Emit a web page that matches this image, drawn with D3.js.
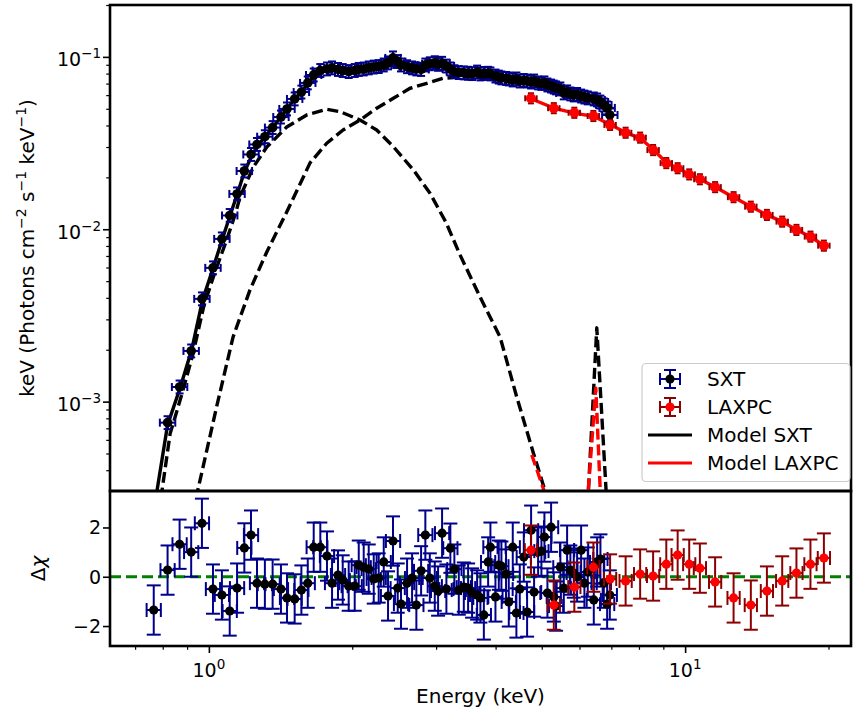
<!DOCTYPE html>
<html>
<head>
<meta charset="utf-8">
<script src="https://cdn.jsdelivr.net/npm/d3@7"></script>
<style>
  body { margin: 0; background: #fff; }
  text { font-family: "DejaVu Sans", sans-serif; fill: #000; }
</style>
</head>
<body>
<div id="chart"></div>
<script>
// ---- data ----
const sxtEnergy = [0.766, 0.819, 0.868, 0.918, 0.967, 1.020, 1.065, 1.106, 1.146, 1.187,
  1.226, 1.262, 1.311, 1.361, 1.417, 1.459, 1.514, 1.564, 1.613, 1.660,
  1.714, 1.770, 1.814, 1.867, 1.910, 1.966, 2.024, 2.064, 2.114, 2.166,
  2.219, 2.273, 2.329, 2.378, 2.436, 2.492, 2.532, 2.607, 2.671, 2.727,
  2.790, 2.848, 2.910, 2.981, 3.029, 3.088, 3.153, 3.214, 3.277, 3.348,
  3.430, 3.502, 3.570, 3.658, 3.717, 3.779, 3.858, 3.901, 3.997, 4.062,
  4.114, 4.207, 4.263, 4.346, 4.423, 4.496, 4.584, 4.658, 4.749, 4.818,
  4.913, 4.992, 5.065, 5.139, 5.231, 5.300, 5.358, 5.471, 5.562, 5.652,
  5.742, 5.837, 5.932, 6.048, 6.145, 6.246, 6.430, 6.535, 6.640, 6.750,
  6.859, 6.948];
const sxtFlux = [2.29e-4, 7.55e-4, 1.216e-3, 1.968e-3, 3.945e-3, 5.97e-3, 8.79e-3, 0.01202, 0.01603, 0.02178,
  0.02716, 0.03105, 0.03443, 0.03890, 0.04477, 0.04989, 0.05702, 0.06252, 0.07063, 0.07852,
  0.08337, 0.08511, 0.08630, 0.08453, 0.08337, 0.08222, 0.08337, 0.08453, 0.08511, 0.08630,
  0.08730, 0.08790, 0.08974, 0.09226, 0.09863, 0.09397, 0.08974, 0.08770, 0.08630, 0.08511,
  0.08453, 0.08974, 0.0912, 0.0925, 0.0905, 0.0918, 0.08851, 0.08511, 0.08204, 0.08110,
  0.08072, 0.08035, 0.08000, 0.08166, 0.07962, 0.08017, 0.08035, 0.07962, 0.07745, 0.07638,
  0.07551, 0.07499, 0.07447, 0.07345, 0.07447, 0.07244, 0.07295, 0.07244, 0.07145, 0.07244,
  0.07063, 0.07015, 0.07063, 0.06871, 0.06776, 0.06683, 0.06607, 0.06516, 0.06180, 0.06266,
  0.06095, 0.06012, 0.06053, 0.05929, 0.05848, 0.05781, 0.05702, 0.05623, 0.05470, 0.05260,
  0.05058, 0.04603];
const sxtResid = [-1.35, 0.27, 1.32, 1.00, 2.17, -0.50, -0.74, -1.39, -0.46, 1.17,
  1.69, -0.26, -0.30, -0.30, -0.50, -0.86, -0.90, -0.54, -0.26, 1.20,
  1.20, 0.84, -0.26, 0.07, -0.13, -0.38, -0.38, 0.47, 0.39, 0.31,
  -0.09, -0.05, 0.60, -0.78, 1.45, -0.46, -1.11, -0.26, -0.05, -1.15,
  0.24, 1.69, -0.05, -0.38, -0.58, 1.77, -0.50, 1.16, 0.31, -0.54,
  -0.42, -0.46, -0.66, -0.74, -0.86, -1.55, 0.60, 1.20, -0.82, 0.47,
  0.43, 0.11, -1.02, 1.20, -1.47, -0.50, 0.80, -1.43, 1.89, -0.62,
  1.00, 1.04, 1.61, -0.66, 2.01, -0.82, -1.19, 0.39, -0.46, 1.08,
  0.27, 0.15, -0.01, 1.08, -0.26, 0.19, -0.94, 0.60, 0.72, -0.26,
  -1.11, -0.74];

const laxpcEnergy = [4.745, 5.30, 5.853, 6.418, 6.958, 7.50, 8.045, 8.566, 9.13, 9.645,
  10.20, 10.74, 11.56, 12.64, 13.74, 14.85, 15.99, 17.13, 18.33, 19.56];
const laxpcFlux = [0.0575, 0.0504, 0.0474, 0.0454, 0.0403, 0.0363, 0.0340, 0.0288, 0.0242, 0.0226,
  0.0208, 0.0195, 0.01755, 0.01535, 0.01352, 0.01211, 0.01107, 0.00991, 0.00906, 0.00803];
const laxpcResid = [1.08, -1.15, -0.42, 0.39, -0.09, -0.17, 0.11, 0.03, 0.51, 0.88,
  0.51, 0.35, -0.21, -0.86, -1.15, -0.58, -0.17, 0.15, 0.51, 0.76];
const laxpcModel = [0.0572, 0.0505, 0.0472, 0.0452, 0.0405, 0.0364, 0.0338, 0.0290, 0.0244, 0.0226,
  0.0209, 0.0195, 0.01760, 0.01535, 0.01355, 0.01212, 0.01107, 0.00993, 0.00905, 0.00805];

// SXT model total and its components
const sxtModelE = [0.752, 0.778, 0.819, 0.870, 0.920, 0.970, 1.021, 1.069, 1.107, 1.151,
  1.185, 1.230, 1.268, 1.311, 1.363, 1.422, 1.480, 1.529, 1.576, 1.631,
  1.684, 1.754, 1.823, 1.979, 2.145, 2.321, 2.520, 2.777, 3.058, 3.368,
  3.710, 4.088, 4.502, 4.960, 5.463, 6.017, 6.316, 6.524, 6.729, 6.958];
const sxtModelF = [1.80e-4, 3.03e-4, 7.33e-4, 1.20e-3, 1.99e-3, 3.89e-3, 5.97e-3, 8.91e-3, 0.01194, 0.01644,
  0.02123, 0.02661, 0.03083, 0.03428, 0.03917, 0.04539, 0.05260, 0.05848, 0.06427, 0.07244,
  0.08072, 0.08395, 0.08511, 0.08395, 0.08570, 0.08851, 0.08974, 0.08851, 0.08851, 0.08279,
  0.08072, 0.07638, 0.07295, 0.06966, 0.06516, 0.06012, 0.05768, 0.05702, 0.05395, 0.04786];

const diskE = [0.782, 0.797, 0.829, 0.878, 0.926, 0.976, 1.030, 1.086, 1.140, 1.162,
  1.240, 1.323, 1.457, 1.605, 1.768, 1.886, 2.077, 2.251, 2.440, 2.688,
  2.913, 3.150, 3.368, 3.710, 4.088, 4.432, 4.801, 5.082, 5.206];
const diskF = [1.80e-4, 3.03e-4, 6.50e-4, 1.109e-3, 1.892e-3, 3.59e-3, 5.65e-3, 8.44e-3, 0.01259, 0.01538,
  0.02296, 0.02999, 0.03917, 0.04603, 0.04966, 0.04808, 0.04305, 0.03767, 0.03013, 0.02208,
  0.01618, 0.01090, 7.10e-3, 4.05e-3, 2.37e-3, 1.06e-3, 5.04e-4, 3.03e-4, 2.35e-4];

const comptE = [0.913, 0.947, 1.038, 1.124, 1.220, 1.323, 1.457, 1.554, 1.631, 1.768,
  1.913, 2.077, 2.251, 2.440, 2.645, 2.868, 3.103, 3.368, 3.710, 4.088,
  4.724, 5.463, 6.316, 6.958];
const comptF = [1.80e-4, 3.03e-4, 9.31e-4, 2.37e-3, 4.45e-3, 7.38e-3, 0.01259, 0.01832, 0.02427, 0.03155,
  0.03767, 0.04305, 0.05035, 0.05754, 0.06577, 0.07031, 0.07516, 0.07638, 0.07638, 0.07447,
  0.07063, 0.06427, 0.05702, 0.04721];

const lineE = [6.097, 6.265, 6.524, 6.825, 7.032];
const lineF = [7.08e-5, 3.03e-4, 2.68e-3, 3.03e-4, 7.08e-5];

// LAXPC components (visible parts)
const laxpcDiskE = [4.764, 5.082, 5.256];
const laxpcDiskF = [4.91e-4, 2.92e-4, 2.06e-4];
const laxpcLineE = [6.017, 6.265, 6.493, 6.630, 6.788];
const laxpcLineF = [7.08e-5, 3.16e-4, 1.197e-3, 3.16e-4, 7.08e-5];

const yMajor = [1e-3, 1e-2, 1e-1];
const yMajorExp = ['\u22123', '\u22122', '\u22121'];
const xMajor = [1, 10];
const xMajorExp = ['0', '1'];
const resTicks = [-2, 0, 2];

// ---- layout ----
const W = 853, H = 710;
const plotLeft = 110, plotRight = 851, plotTop = 5, plotMid = 491, plotBottom = 646;
const navy = '#00008b', darkred = '#8b0000';

const svg = d3.select('#chart').append('svg')
  .attr('width', W).attr('height', H);

const x = d3.scaleLog().domain([0.62, 22.3]).range([plotLeft, plotRight]);
const yTop = d3.scaleLog().domain([3.03e-4, 0.2]).range([plotMid, plotTop]);
const yRes = d3.scaleLinear().domain([-2.81, 3.48]).range([plotBottom, plotMid]);

const defs = svg.append('defs');
defs.append('clipPath').attr('id', 'clipTop')
  .append('rect').attr('x', plotLeft).attr('y', plotTop)
  .attr('width', plotRight - plotLeft).attr('height', plotMid - plotTop);
defs.append('clipPath').attr('id', 'clipRes')
  .append('rect').attr('x', plotLeft).attr('y', plotMid)
  .attr('width', plotRight - plotLeft).attr('height', plotBottom - plotMid);

const gTop = svg.append('g').attr('clip-path', 'url(#clipTop)');
const gRes = svg.append('g').attr('clip-path', 'url(#clipRes)');

const line = d3.line().x(d => x(d[0])).y(d => yTop(d[1]));
const dash = '11,4.8';

function drawModel(E, F, color, dashed) {
  gTop.append('path')
    .attr('d', line(d3.zip(E, F)))
    .attr('fill', 'none')
    .attr('stroke', color)
    .attr('stroke-width', 3.4)
    .attr('stroke-linejoin', 'round')
    .attr('stroke-dasharray', dashed ? dash : null);
}

// pts: [energy, value, low, high]
function errorbars(g, pts, ys, o) {
  const cap = o.cap;
  const eb = g.append('g')
    .attr('stroke', o.barColor)
    .attr('stroke-width', 2);
  const one = eb.selectAll('g').data(pts).join('g');
  // vertical bar + caps
  one.append('line')
    .attr('x1', d => x(d[0])).attr('x2', d => x(d[0]))
    .attr('y1', d => ys(d[2])).attr('y2', d => ys(d[3]));
  one.append('line')
    .attr('x1', d => x(d[0]) - cap).attr('x2', d => x(d[0]) + cap)
    .attr('y1', d => ys(d[2])).attr('y2', d => ys(d[2]));
  one.append('line')
    .attr('x1', d => x(d[0]) - cap).attr('x2', d => x(d[0]) + cap)
    .attr('y1', d => ys(d[3])).attr('y2', d => ys(d[3]));
  // horizontal bar + caps
  one.append('line')
    .attr('x1', d => x(d[0] / o.xf)).attr('x2', d => x(d[0] * o.xf))
    .attr('y1', d => ys(d[1])).attr('y2', d => ys(d[1]));
  one.append('line')
    .attr('x1', d => x(d[0] / o.xf)).attr('x2', d => x(d[0] / o.xf))
    .attr('y1', d => ys(d[1]) - cap).attr('y2', d => ys(d[1]) + cap);
  one.append('line')
    .attr('x1', d => x(d[0] * o.xf)).attr('x2', d => x(d[0] * o.xf))
    .attr('y1', d => ys(d[1]) - cap).attr('y2', d => ys(d[1]) + cap);
  g.append('g').selectAll('circle').data(pts).join('circle')
    .attr('cx', d => x(d[0])).attr('cy', d => ys(d[1]))
    .attr('r', o.r).attr('fill', o.markColor);
}

// ---- top panel ----
drawModel(diskE, diskF, '#000', true);
drawModel(comptE, comptF, '#000', true);
drawModel(lineE, lineF, '#000', true);
drawModel(laxpcDiskE, laxpcDiskF, 'red', true);
drawModel(laxpcLineE, laxpcLineF, 'red', true);
drawModel(sxtModelE, sxtModelF, '#000', false);
drawModel(laxpcEnergy, laxpcModel, 'red', false);

errorbars(gTop, sxtEnergy.map((e, i) => [e, sxtFlux[i], sxtFlux[i] / 1.09, sxtFlux[i] * 1.09]),
  yTop, { xf: 1.038, cap: 4, r: 4.8, barColor: navy, markColor: '#000' });
errorbars(gTop, laxpcEnergy.map((e, i) => [e, laxpcFlux[i], laxpcFlux[i] / 1.07, laxpcFlux[i] * 1.07]),
  yTop, { xf: 1.028, cap: 3, r: 5, barColor: darkred, markColor: 'red' });

// ---- residual panel ----
gRes.append('line')
  .attr('x1', plotLeft).attr('x2', plotRight)
  .attr('y1', yRes(0)).attr('y2', yRes(0))
  .attr('stroke', 'green').attr('stroke-width', 3.2)
  .attr('stroke-dasharray', '11,5');

errorbars(gRes, sxtEnergy.map((e, i) => [e, sxtResid[i], sxtResid[i] - 1, sxtResid[i] + 1]),
  yRes, { xf: 1.035, cap: 7, r: 4.6, barColor: navy, markColor: '#000' });
errorbars(gRes, laxpcEnergy.map((e, i) => [e, laxpcResid[i], laxpcResid[i] - 1, laxpcResid[i] + 1]),
  yRes, { xf: 1.03, cap: 7, r: 4.6, barColor: darkred, markColor: 'red' });

// ---- axes ----
function supText(sel, base, exp) {
  sel.text(base);
  sel.append('tspan').attr('dy', -8).attr('font-size', 13.5).text(exp);
}

// top y axis
const yAxisTop = svg.append('g').attr('transform', `translate(${plotLeft},0)`)
  .call(d3.axisLeft(yTop).tickValues(yMajor).tickSize(7).tickFormat(''));
const yMinor = [];
[1e-4, 1e-3, 1e-2, 1e-1].forEach(p => d3.range(2, 10).forEach(k => {
  const v = k * p;
  if (v >= 3.03e-4 && v <= 0.2) yMinor.push(v);
}));
svg.append('g').attr('transform', `translate(${plotLeft},0)`)
  .call(d3.axisLeft(yTop).tickValues(yMinor).tickSize(3.8).tickFormat(''))
  .call(g => g.select('.domain').remove())
  .selectAll('line').attr('stroke-width', 1.2);
yAxisTop.select('.domain').remove();
yAxisTop.selectAll('line').attr('stroke-width', 1.6);
svg.append('g').selectAll('text').data(yMajor).join('text')
  .attr('x', 101).attr('y', d => yTop(d) + 9.5)
  .attr('text-anchor', 'end').attr('font-size', 19)
  .each(function (d, i) { supText(d3.select(this), '10', yMajorExp[i]); });

// residual y axis
const yAxisRes = svg.append('g').attr('transform', `translate(${plotLeft},0)`)
  .call(d3.axisLeft(yRes).tickValues(resTicks).tickSize(7).tickFormat(''));
yAxisRes.select('.domain').remove();
yAxisRes.selectAll('line').attr('stroke-width', 1.6);
svg.append('g').selectAll('text').data(resTicks).join('text')
  .attr('x', 101).attr('y', d => yRes(d) + 7)
  .attr('text-anchor', 'end').attr('font-size', 19)
  .text(d => d < 0 ? '\u2212' + Math.abs(d) : d);

// x axis (bottom)
const xAxis = svg.append('g').attr('transform', `translate(0,${plotBottom})`)
  .call(d3.axisBottom(x).tickValues(xMajor).tickSize(7).tickFormat(''));
xAxis.select('.domain').remove();
xAxis.selectAll('line').attr('stroke-width', 1.6);
const xMinor = [0.7, 0.8, 0.9, 2, 3, 4, 5, 6, 7, 8, 9, 20];
svg.append('g').attr('transform', `translate(0,${plotBottom})`)
  .call(d3.axisBottom(x).tickValues(xMinor).tickSize(3.8).tickFormat(''))
  .call(g => g.select('.domain').remove())
  .selectAll('line').attr('stroke-width', 1.2);
svg.append('g').selectAll('text').data(xMajor).join('text')
  .attr('x', d => x(d)).attr('y', 677)
  .attr('text-anchor', 'middle').attr('font-size', 19)
  .each(function (d, i) { supText(d3.select(this), '10', xMajorExp[i]); });

// axis labels
svg.append('text')
  .attr('x', (plotLeft + plotRight) / 2).attr('y', 703)
  .attr('text-anchor', 'middle').attr('font-size', 20)
  .text('Energy (keV)');

const yLab = svg.append('text')
  .attr('transform', `translate(34,${(plotTop + plotMid) / 2}) rotate(-90)`)
  .attr('text-anchor', 'middle').attr('font-size', 20);
yLab.append('tspan').text('keV (Photons cm');
yLab.append('tspan').attr('dy', -8).attr('font-size', 14).text('\u22122');
yLab.append('tspan').attr('dy', 8).text(' s');
yLab.append('tspan').attr('dy', -8).attr('font-size', 14).text('\u22121');
yLab.append('tspan').attr('dy', 8).text(' keV');
yLab.append('tspan').attr('dy', -8).attr('font-size', 14).text('\u22121');
yLab.append('tspan').attr('dy', 8).text(')');

const rLab = svg.append('text')
  .attr('transform', `translate(45,${(plotMid + plotBottom) / 2}) rotate(-90)`)
  .attr('text-anchor', 'middle').attr('font-size', 20);
rLab.append('tspan').text('\u0394');
rLab.append('tspan').attr('font-style', 'italic').text('\u03c7');

// spines
[[plotTop, plotMid], [plotMid, plotBottom]].forEach(([a, b]) => {
  svg.append('rect')
    .attr('x', plotLeft).attr('y', a).attr('width', plotRight - plotLeft).attr('height', b - a)
    .attr('fill', 'none').attr('stroke', '#000').attr('stroke-width', 2.6);
});

// ---- legend ----
const legendItems = [
  { label: 'SXT', type: 'eb', bar: navy, mark: '#000' },
  { label: 'LAXPC', type: 'eb', bar: darkred, mark: 'red' },
  { label: 'Model SXT', type: 'line', color: '#000' },
  { label: 'Model LAXPC', type: 'line', color: 'red' }
];
const lg = svg.append('g');
lg.append('rect')
  .attr('x', 642).attr('y', 363.5).attr('width', 208).attr('height', 118)
  .attr('rx', 4).attr('fill', 'rgba(255,255,255,0.8)')
  .attr('stroke', '#cccccc').attr('stroke-width', 1.2);
legendItems.forEach((d, i) => {
  const cy = 379 + i * 28;
  const cx = 670;
  if (d.type === 'eb') {
    const h = lg.append('g').attr('stroke', d.bar).attr('stroke-width', 2);
    h.append('line').attr('x1', cx).attr('x2', cx).attr('y1', cy - 9).attr('y2', cy + 9);
    h.append('line').attr('x1', cx - 6).attr('x2', cx + 6).attr('y1', cy - 9).attr('y2', cy - 9);
    h.append('line').attr('x1', cx - 6).attr('x2', cx + 6).attr('y1', cy + 9).attr('y2', cy + 9);
    h.append('line').attr('x1', cx - 10).attr('x2', cx + 10).attr('y1', cy).attr('y2', cy);
    h.append('line').attr('x1', cx - 10).attr('x2', cx - 10).attr('y1', cy - 6).attr('y2', cy + 6);
    h.append('line').attr('x1', cx + 10).attr('x2', cx + 10).attr('y1', cy - 6).attr('y2', cy + 6);
    lg.append('circle').attr('cx', cx).attr('cy', cy).attr('r', 4.6).attr('fill', d.mark);
  } else {
    lg.append('line').attr('x1', 648).attr('x2', 692).attr('y1', cy).attr('y2', cy)
      .attr('stroke', d.color).attr('stroke-width', 3.2);
  }
  lg.append('text').attr('x', 707).attr('y', cy + 7)
    .attr('font-size', 20).text(d.label);
});
</script>
</body>
</html>
